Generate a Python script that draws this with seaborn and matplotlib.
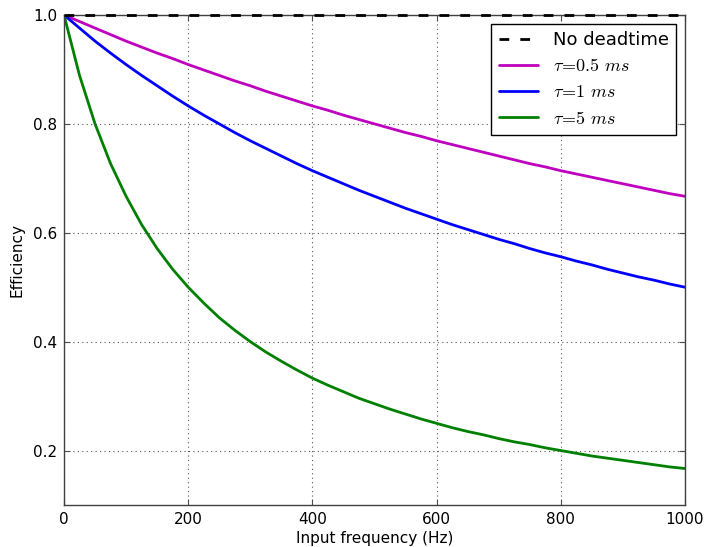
import matplotlib
matplotlib.use("Agg")
import matplotlib.pyplot as plt
import seaborn as sns
import pandas as pd

freq = [0, 25, 50, 75, 100, 125, 150, 175, 200, 225, 250, 275, 300, 325, 350, 375, 400,
        425, 450, 475, 500, 525, 550, 575, 600, 625, 650, 675, 700, 725, 750, 775, 800,
        825, 850, 875, 900, 925, 950, 975, 1000]
no_dead = [1.0] * len(freq)
eff_05 = [1.000, 0.988, 0.976, 0.964, 0.952, 0.941, 0.930, 0.920, 0.909, 0.899, 0.889,
          0.879, 0.870, 0.860, 0.851, 0.842, 0.833, 0.825, 0.816, 0.808, 0.800, 0.792,
          0.784, 0.777, 0.769, 0.762, 0.755, 0.748, 0.741, 0.734, 0.727, 0.721, 0.714,
          0.708, 0.702, 0.696, 0.690, 0.684, 0.678, 0.672, 0.667]
eff_1 = [1.000, 0.976, 0.952, 0.930, 0.909, 0.889, 0.870, 0.851, 0.833, 0.816, 0.800,
         0.784, 0.769, 0.755, 0.741, 0.727, 0.714, 0.702, 0.690, 0.678, 0.667, 0.656,
         0.645, 0.635, 0.625, 0.615, 0.606, 0.597, 0.588, 0.580, 0.571, 0.563, 0.556,
         0.548, 0.541, 0.533, 0.526, 0.519, 0.513, 0.506, 0.500]
eff_5 = [1.000, 0.889, 0.800, 0.727, 0.667, 0.615, 0.571, 0.533, 0.500, 0.471, 0.444,
         0.421, 0.400, 0.381, 0.364, 0.348, 0.333, 0.320, 0.308, 0.296, 0.286, 0.276,
         0.267, 0.258, 0.250, 0.242, 0.235, 0.229, 0.222, 0.216, 0.211, 0.205, 0.200,
         0.195, 0.190, 0.186, 0.182, 0.178, 0.174, 0.170, 0.167]
labels = ["No deadtime", r"$\tau\!=\!0.5\ ms$", r"$\tau\!=\!1\ ms$", r"$\tau\!=\!5\ ms$"]

sns.set_style("white")
plt.rcParams.update({
    "font.family": ["DejaVu Sans"],
    "mathtext.fontset": "cm",
    "xtick.direction": "in", "ytick.direction": "in",
    "xtick.top": True, "ytick.right": True,
    "xtick.major.size": 4, "ytick.major.size": 4,
    "xtick.bottom": True, "ytick.left": True,
})

fig = plt.figure(figsize=(7.04, 5.47), dpi=100)
ax = fig.add_axes([0.0909, 0.0768, 0.8821, 0.8958])

series = [no_dead, eff_05, eff_1, eff_5]
colors = ["black", "#bf00bf", "#0000ff", "#008000"]
styles = [(0, (3.5, 4)), "-", "-", "-"]
for vals, lab, col, ls in zip(series, labels, colors, styles):
    df = pd.DataFrame({"f": freq, "e": vals})
    sns.lineplot(data=df, x="f", y="e", ax=ax, color=col, lw=2, label=lab, linestyle=ls)
ax.get_lines()[0].set_clip_on(False)
ax.get_lines()[0].set_zorder(5)

ax.set_xlim(0, 1000)
ax.set_ylim(0.1, 1.0)
ax.set_xticks([0, 200, 400, 600, 800, 1000])
ax.set_yticks([0.2, 0.4, 0.6, 0.8, 1.0])
ax.tick_params(labelsize=11, width=0.8, color="0.3", pad=5, labelcolor="black")
ax.grid(True, color="0.35", linestyle=(0, (1, 3)), linewidth=0.8)
for s in ax.spines.values():
    s.set_color("0.25")
    s.set_linewidth(1)
ax.set_xlabel("Input frequency (Hz)", fontsize=11, labelpad=3, color="black")
ax.set_ylabel("Efficiency", fontsize=11, labelpad=6, color="black")

leg = ax.legend(loc="upper right", fontsize=13, frameon=True, fancybox=False,
                edgecolor="black", framealpha=1, borderaxespad=0.5, handlelength=2.2,
                labelspacing=0.45, borderpad=0.4)
leg.get_frame().set_linewidth(1)
for t in leg.get_texts():
    t.set_color("black")

fig.savefig("out.png", dpi=100, facecolor="white")
